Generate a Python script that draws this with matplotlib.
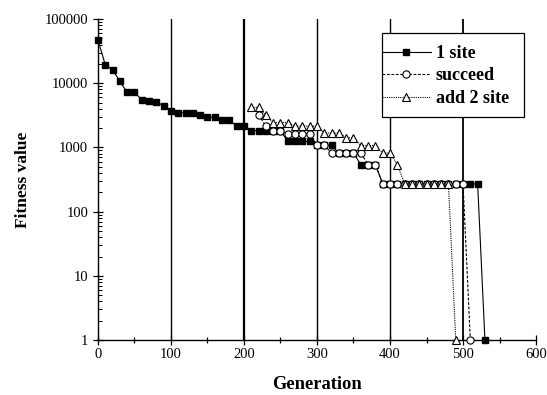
import numpy as np
import matplotlib
matplotlib.use('Agg')
import matplotlib.pyplot as plt
import matplotlib.patches as mpatches
from matplotlib.ticker import LogLocator, MultipleLocator, FixedLocator, FixedFormatter

plt.rcParams['font.family'] = ['Liberation Serif', 'DejaVu Serif']

# 1 site: every 10 generations from 0 to 530
gen_1site = list(range(0, 540, 10))
fit_1site = [47000, 19500, 16300, 10700, 7200, 7200, 5560, 5200, 5040, 4480,
             3730, 3460, 3460, 3460, 3230, 2940, 2940, 2650, 2650, 2140,
             2140, 1830, 1830, 1830, 1830, 1830, 1240, 1240, 1240, 1240,
             1080, 1080, 1080, 815, 815, 815, 540, 540, 540, 270,
             270, 270, 270, 270, 270, 270, 270, 270, 270, 270,
             270, 270, 270, 1]

# succeed: from 220 to 510
gen_succeed = list(range(220, 520, 10))
fit_succeed = [3200, 2150, 1830, 1830, 1610, 1610, 1610, 1610, 1080, 1080,
               815, 815, 815, 815, 815, 540, 540, 270, 270, 270,
               270, 270, 270, 270, 270, 270, 270, 270, 270, 1]

# add 2 site: from 210 to 490
gen_add2 = list(range(210, 500, 10))
fit_add2 = [4200, 4200, 3200, 2440, 2440, 2440, 2150, 2150, 2150, 2150,
            1670, 1670, 1670, 1420, 1420, 1070, 1070, 1070, 815, 815,
            540, 270, 270, 270, 270, 270, 270, 270, 1]

grid_x = [100, 200, 300, 400, 500]
grid_w = [1.0, 1.6, 1.0, 1.0, 1.3]

W, H = 547, 395
fig = plt.figure(figsize=(W / 100, H / 100), dpi=100)
ax = fig.add_axes([0.179, 0.139, 0.801, 0.813])

for gx, gw in zip(grid_x, grid_w):
    ax.axvline(gx, color='black', lw=gw, zorder=1)

ax.plot(gen_1site, fit_1site, color='black', lw=0.8, ls='-', marker='s',
        ms=4.8, mfc='black', mec='black', label='1 site', clip_on=False, zorder=3)
ax.plot(gen_succeed, fit_succeed, color='black', lw=0.8, ls=(0, (2.5, 1.5)), marker='o',
        ms=5.2, mfc='white', mec='black', mew=0.8, label='succeed', clip_on=False, zorder=4)
ax.plot(gen_add2, fit_add2, color='black', lw=0.8, ls=(0, (1, 1)), marker='^',
        ms=5.2, mfc='white', mec='black', mew=0.8, label='add 2 site', clip_on=False, zorder=5)

ax.set_yscale('log')
ax.set_ylim(1, 100000)
ax.set_xlim(0, 600)

ax.xaxis.set_major_locator(MultipleLocator(100))
ax.xaxis.set_minor_locator(MultipleLocator(50))
ax.yaxis.set_major_locator(FixedLocator([1, 10, 100, 1000, 10000, 100000]))
ax.yaxis.set_major_formatter(FixedFormatter(['1', '10', '100', '1000', '10000', '100000']))
ax.yaxis.set_minor_locator(LogLocator(base=10, subs=np.arange(2, 10), numticks=20))

ax.tick_params(axis='both', which='major', direction='inout', length=7, width=0.9,
               labelsize=10.5, colors='black')
ax.tick_params(axis='x', which='minor', direction='inout', length=5, width=0.9)
ax.tick_params(axis='y', which='minor', direction='in', length=3, width=0.7)
ax.tick_params(axis='x', pad=2)

for side in ['top', 'right']:
    ax.spines[side].set_visible(False)
for side in ['left', 'bottom']:
    ax.spines[side].set_linewidth(1.0)

ax.set_xlabel('Generation', fontsize=13.3, fontweight='bold', labelpad=11)
ax.set_ylabel('Fitness value', fontsize=12.5, fontweight='bold', labelpad=10)

# legend box drawn by hand (handles touch the left edge in the original)
box = mpatches.Rectangle((382 / W, 1 - 117 / H), 142 / W, 84 / H, transform=fig.transFigure,
                         facecolor='white', edgecolor='black', lw=0.9, zorder=8, clip_on=False)
ax.add_patch(box)

leg = ax.legend(loc='upper left', bbox_to_anchor=(382 / W, 1 - 45 / H), bbox_transform=fig.transFigure,
                frameon=False, prop={'weight': 'bold', 'size': 13},
                handlelength=2.7, handletextpad=0.28, borderpad=0, labelspacing=0.3,
                borderaxespad=0)
leg.set_zorder(10)

fig.savefig('out.png', dpi=100)
